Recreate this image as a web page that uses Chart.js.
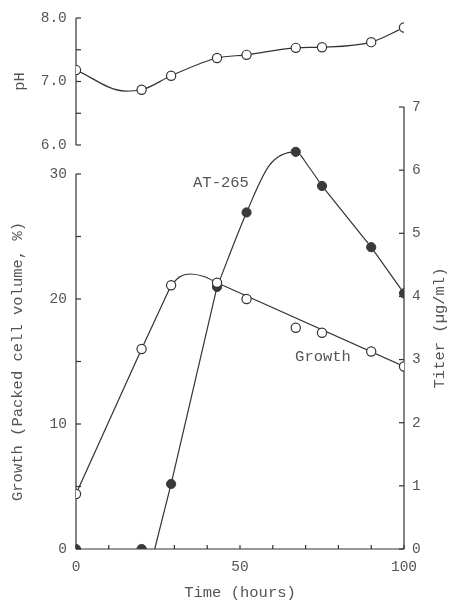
<!DOCTYPE html>
<html>
<head>
<meta charset="utf-8">
<script src="https://cdn.jsdelivr.net/npm/chart.js@4/dist/chart.umd.min.js"></script>
<style>
  html, body { margin: 0; padding: 0; background: #fff; }
  #wrap { position: relative; width: 451px; height: 603px; }
</style>
</head>
<body>
<div id="wrap"><canvas id="c" width="451" height="603"></canvas></div>
<script>
// ---- data ----
const time = [0, 20, 29, 43, 52, 67, 75, 90, 100];
const growth = [4.4, 16.0, 21.1, 21.3, 20.0, 17.7, 17.3, 15.8, 14.6];
const titer = [0, 0, 1.03, 4.15, 5.33, 6.29, 5.75, 4.78, 4.05];
const pH = [7.18, 6.87, 7.09, 7.37, 7.42, 7.53, 7.54, 7.62, 7.85];

// fitted curves (straight parts and rounded parts)
const growthLineATime = [0, 20, 29];
const growthLineA = [4.4, 16.0, 21.1];
const growthHumpTime = [29, 31.5, 35, 39, 43];
const growthHump = [21.1, 21.75, 22.0, 21.8, 21.3];
const growthLineBTime = [43, 100];
const growthLineB = [21.3, 14.6];

const titerLineATime = [24, 29, 43];
const titerLineA = [0, 1.03, 4.15];
const titerPeakTime = [43, 52, 59, 67, 71, 75];
const titerPeak = [4.15, 5.33, 6.08, 6.29, 6.05, 5.75];
const titerLineBTime = [75, 90, 100];
const titerLineB = [5.75, 4.78, 4.05];

const pHCurveTime = [0, 15, 20, 29, 43, 52, 67, 75, 90, 100];
const pHCurve = [7.18, 6.85, 6.87, 7.09, 7.37, 7.42, 7.53, 7.54, 7.62, 7.85];

// ticks
const xTicks = [0, 10, 20, 30, 40, 50, 60, 70, 80, 90, 100];
const xLabels = [0, 50, 100];
const growthTicks = [0, 5, 10, 15, 20, 25, 30];
const growthLabels = [0, 10, 20, 30];
const pHTicks = [6.0, 6.5, 7.0, 7.5, 8.0];
const pHLabels = [6.0, 7.0, 8.0];
const titerTicks = [0, 1, 2, 3, 4, 5, 6, 7];

const pts = (xs, ys) => xs.map((t, i) => ({ x: t, y: ys[i] }));

const INK = '#333';
const TXT = '#555';
const FONT = '"Liberation Mono", "DejaVu Sans Mono", monospace';

const setTicks = (arr) => (scale) => { scale.ticks = arr.map(v => ({ value: v })); };

const axesPlugin = {
  id: 'axesPlugin',
  beforeDatasetsDraw(chart) {
    const { ctx } = chart;
    const { x, yG, yT, yP } = chart.scales;
    const ln = (a, b, c, d) => { ctx.beginPath(); ctx.moveTo(a, b); ctx.lineTo(c, d); ctx.stroke(); };
    ctx.save();
    ctx.strokeStyle = INK;
    ctx.lineWidth = 1.2;
    const x0 = x.getPixelForValue(0), x1 = x.getPixelForValue(100);
    const yb = yG.getPixelForValue(0);
    ln(x0, yb, x1, yb);
    xTicks.forEach(v => { const p = x.getPixelForValue(v); ln(p, yb, p, yb - 4); });
    ln(x0, yb, x0, yG.getPixelForValue(30));
    growthTicks.forEach(v => { const p = yG.getPixelForValue(v); ln(x0, p, x0 + 5, p); });
    ln(x0, yP.getPixelForValue(6), x0, yP.getPixelForValue(8));
    pHTicks.forEach(v => { const p = yP.getPixelForValue(v); ln(x0, p, x0 + 5, p); });
    ln(x1, yT.getPixelForValue(0), x1, yT.getPixelForValue(7));
    titerTicks.forEach(v => { const p = yT.getPixelForValue(v); ln(x1 - 5, p, x1, p); });

    ctx.fillStyle = TXT;
    ctx.font = '15.5px ' + FONT;
    ctx.textAlign = 'center';
    ctx.textBaseline = 'middle';
    const vtext = (s, cx, cy) => { ctx.save(); ctx.translate(cx, cy); ctx.rotate(-Math.PI / 2); ctx.fillText(s, 0, 0); ctx.restore(); };
    vtext('Growth (Packed cell volume, %)', x0 - 58, yG.getPixelForValue(15));
    vtext('pH', x0 - 56, yP.getPixelForValue(7.0));
    vtext('Titer (\u00b5g/ml)', x1 + 36, yT.getPixelForValue(3.5));
    ctx.fillText('AT-265', x.getPixelForValue(44.2), yT.getPixelForValue(5.8));
    ctx.fillText('Growth', x.getPixelForValue(75.3), yG.getPixelForValue(15.4));
    ctx.restore();
  }
};

const curve = (xs, ys, axis, smooth) => ({
  data: pts(xs, ys), yAxisID: axis, showLine: true, pointRadius: 0,
  borderColor: INK, borderWidth: 1.2,
  cubicInterpolationMode: smooth ? 'monotone' : 'default', tension: 0, order: 1
});
const openPts = (ys, axis) => ({ data: pts(time, ys), yAxisID: axis, showLine: false, pointRadius: 4.6,
  pointBackgroundColor: '#fff', pointBorderColor: INK, pointBorderWidth: 1.2, order: 0 });

new Chart(document.getElementById('c'), {
  type: 'scatter',
  data: {
    datasets: [
      openPts(pH, 'yP'),
      openPts(growth, 'yG'),
      { data: pts(time, titer), yAxisID: 'yT', showLine: false, pointRadius: 4.6, pointBackgroundColor: '#3a3a3a', pointBorderColor: '#3a3a3a', pointBorderWidth: 1, order: 0 },
      curve(pHCurveTime, pHCurve, 'yP', true),
      curve(growthLineATime, growthLineA, 'yG', false),
      curve(growthHumpTime, growthHump, 'yG', true),
      curve(growthLineBTime, growthLineB, 'yG', false),
      curve(titerLineATime, titerLineA, 'yT', false),
      curve(titerPeakTime, titerPeak, 'yT', true),
      curve(titerLineBTime, titerLineB, 'yT', false)
    ]
  },
  options: {
    responsive: false,
    animation: false,
    events: [],
    layout: { padding: { top: 18, left: 0, right: 0, bottom: 0 } },
    plugins: { legend: { display: false }, tooltip: { enabled: false } },
    scales: {
      x: {
        type: 'linear', position: 'bottom', min: 0, max: 100,
        afterBuildTicks: setTicks(xTicks),
        afterFit: (s) => { s.height = 54; },
        grid: { display: false, drawTicks: false }, border: { display: false },
        ticks: { padding: 9, color: TXT, font: { family: FONT, size: 14.5 }, maxRotation: 0,
                 callback: (v) => xLabels.includes(v) ? String(v) : '' },
        title: { display: true, text: 'Time (hours)', color: TXT, font: { family: FONT, size: 15.5 }, padding: { top: 0, bottom: 1 } }
      },
      yG: {
        type: 'linear', position: 'left', min: 0, max: 42.48,
        afterBuildTicks: setTicks(growthTicks),
        afterFit: (s) => { s.width = 76; },
        grid: { display: false, drawTicks: false }, border: { display: false },
        ticks: { padding: 9, color: TXT, font: { family: FONT, size: 14.5 },
                 callback: (v) => growthLabels.includes(v) ? String(v) : '' }
      },
      yP: {
        type: 'linear', position: { x: -2.8 }, min: -0.362, max: 8.0,
        afterBuildTicks: setTicks(pHTicks),
        grid: { display: false, drawTicks: false }, border: { display: false },
        ticks: { padding: 9, color: TXT, font: { family: FONT, size: 14.5 },
                 callback: (v) => pHLabels.includes(v) ? v.toFixed(1) : '' }
      },
      yT: {
        type: 'linear', position: 'right', min: 0, max: 8.41,
        afterBuildTicks: setTicks(titerTicks),
        afterFit: (s) => { s.width = 47; },
        grid: { display: false, drawTicks: false }, border: { display: false },
        ticks: { padding: 8, color: TXT, font: { family: FONT, size: 14.5 },
                 callback: (v) => String(v) }
      }
    }
  },
  plugins: [axesPlugin]
});
</script>
</body>
</html>
